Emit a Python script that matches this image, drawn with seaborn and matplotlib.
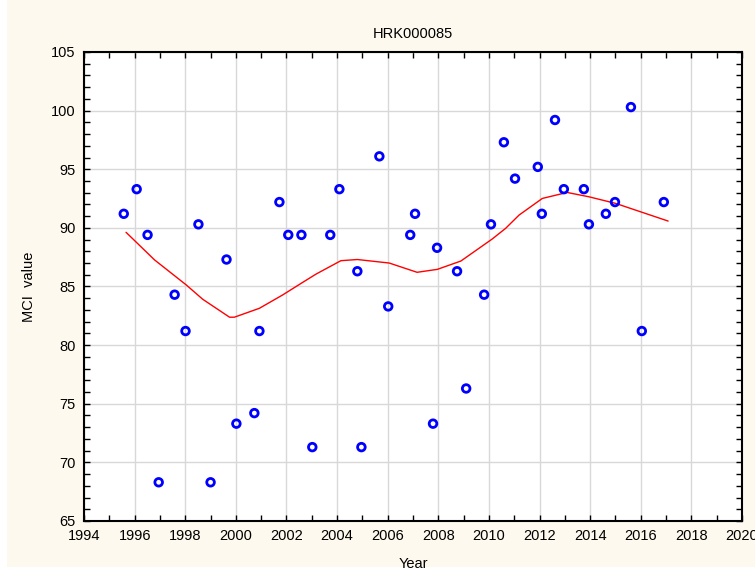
"""MCI value by year for station HRK000085, with smoothed trend"""
import matplotlib
matplotlib.use("Agg")
import matplotlib.pyplot as plt
from matplotlib.patches import Rectangle
from matplotlib.ticker import MultipleLocator
import pandas as pd
import seaborn as sns

years = [1995.57, 1996.08, 1996.51, 1996.95, 1997.58, 1998.01, 1998.52, 1999.00,
         1999.63, 2000.02, 2000.73, 2000.93, 2001.72, 2002.07, 2002.59, 2003.02,
         2003.73, 2004.09, 2004.80, 2004.96, 2005.67, 2006.02, 2006.89, 2007.08,
         2007.79, 2007.95, 2008.74, 2009.10, 2009.81, 2010.08, 2010.59, 2011.03,
         2011.93, 2012.09, 2012.61, 2012.96, 2013.75, 2013.95, 2014.62, 2014.98,
         2015.61, 2016.04, 2016.91]
mci = [91.2, 93.3, 89.4, 68.3, 84.3, 81.2, 90.3, 68.3,
       87.3, 73.3, 74.2, 81.2, 92.2, 89.4, 89.4, 71.3,
       89.4, 93.3, 86.3, 71.3, 96.1, 83.3, 89.4, 91.2,
       73.3, 88.3, 86.3, 76.3, 84.3, 90.3, 97.3, 94.2,
       95.2, 91.2, 99.2, 93.3, 93.3, 90.3, 91.2, 92.2,
       100.3, 81.2, 92.2]

# trend line as drawn on the chart
trend_years = [1995.66, 1996.79, 1998.04, 1998.69, 1999.75, 1999.94, 2000.93,
               2001.85, 2002.58, 2003.17, 2004.15, 2004.80, 2006.06, 2007.16,
               2007.96, 2008.89, 2010.13, 2010.66, 2011.19, 2012.11, 2013.09,
               2013.95, 2015.00, 2017.08]
trend_mci = [89.62, 87.26, 85.13, 83.91, 82.38, 82.38, 83.14,
             84.28, 85.27, 86.06, 87.20, 87.30, 87.00, 86.21,
             86.46, 87.17, 89.05, 89.96, 91.09, 92.51, 93.02,
             92.65, 92.09, 90.58]

df = pd.DataFrame({"Year": years, "MCI": mci})
trend = pd.DataFrame({"Year": trend_years, "MCI": trend_mci})

sns.set_theme(style="whitegrid")
plt.rcParams['font.family'] = ['Liberation Sans', 'DejaVu Sans']

bg = "#fef9ee"
fig = plt.figure(figsize=(7.55, 5.7), dpi=100, facecolor="white")
# cream panel with a thin white margin on the left and bottom
panel = Rectangle((7 / 755, 3 / 570), 1, 1, transform=fig.transFigure,
                  facecolor=bg, edgecolor="none", zorder=-10)
fig.add_artist(panel)
ax = fig.add_axes([0.1113, 0.086, 0.8715, 0.8228])
ax.set_facecolor("white")

sns.lineplot(x="Year", y="MCI", data=trend, color="red", linewidth=1.0,
             sort=False, ax=ax)
sns.scatterplot(x="Year", y="MCI", data=df, marker="o", s=30,
                facecolor="none", edgecolor="#0000ff", linewidth=2.0,
                zorder=3, ax=ax)

ax.set_xlim(1994, 2020)
ax.set_ylim(65, 105)
ax.xaxis.set_major_locator(MultipleLocator(2))
ax.xaxis.set_minor_locator(MultipleLocator(1))
ax.yaxis.set_major_locator(MultipleLocator(5))
ax.yaxis.set_minor_locator(MultipleLocator(1))

ax.grid(True, which="major", color="#d8d8d8", linewidth=1.0)
ax.grid(False, which="minor")
for sp in ax.spines.values():
    sp.set_color("black")
    sp.set_linewidth(1.5)

ax.tick_params(which="both", direction="in", length=4, width=1, color="black",
               top=True, right=True, bottom=True, left=True,
               labelsize=10.5, labelcolor="black", pad=6)

ax.set_title("HRK000085", fontsize=10.5, color="black", pad=10)
ax.set_xlabel("Year", fontsize=10.5, color="black", labelpad=10)
ax.set_ylabel("MCI  value", fontsize=10.5, color="black", labelpad=11)

fig.savefig("out.png", dpi=100, facecolor="white")
